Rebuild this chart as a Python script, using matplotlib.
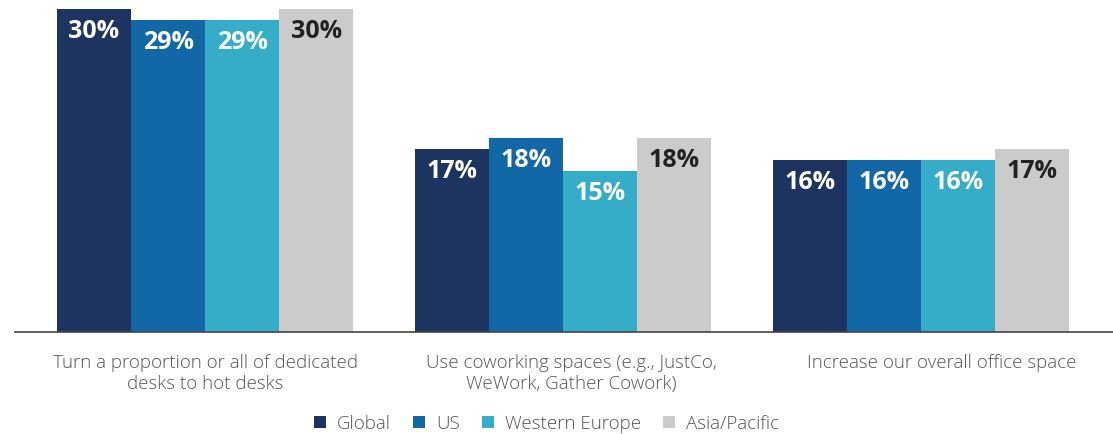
import matplotlib.pyplot as plt
import numpy as np

plt.rcParams['font.family'] = ['Open Sans', 'DejaVu Sans']

categories = ['Turn a proportion or all of dedicated\ndesks to hot desks',
              'Use coworking spaces (e.g., JustCo,\nWeWork, Gather Cowork)',
              'Increase our overall office space']
regions = ['Global', 'US', 'Western Europe', 'Asia/Pacific']
global_vals = [30, 17, 16]
us_vals = [29, 18, 16]
weu_vals = [29, 15, 16]
apac_vals = [30, 18, 17]

colors = ['#1d3461', '#1268a6', '#35adc8', '#cbcbcb']
label_colors = ['white', 'white', 'white', '#222222']
# category labels sit a little right of their bar group
label_shift = [0.0, 0.022, 0.059]

fig = plt.figure(figsize=(11.13, 4.34), dpi=100)
ax = fig.add_axes([0.0135, 0.235, 0.9865, 0.744])

x = np.arange(len(categories))
w = 0.207
series = [global_vals, us_vals, weu_vals, apac_vals]
for i, vals in enumerate(series):
    pos = x + (i - 1.5) * w
    bars = ax.bar(pos, vals, width=w, color=colors[i], label=regions[i])
    for b, v in zip(bars, vals):
        ax.text(b.get_x() + b.get_width() / 2, v - 2.1, f'{v}%',
                ha='center', va='center', fontsize=18, fontweight='bold',
                color=label_colors[i])

ax.set_xlim(-0.531, 2.536)
ax.set_ylim(0, 30)
for s in ['top', 'right', 'left']:
    ax.spines[s].set_visible(False)
ax.spines['bottom'].set_color('#444444')
ax.spines['bottom'].set_linewidth(1.2)
ax.set_yticks([])
ax.set_xticks(x + np.array(label_shift))
ax.set_xticklabels(categories, fontsize=13.5, color='#555555', fontweight='light',
                   linespacing=1.2)
ax.tick_params(axis='x', length=0, pad=16)

ax.legend(loc='center', bbox_to_anchor=(0.484, -0.284), ncol=4, frameon=False,
          handlelength=0.65, handleheight=0.65, handletextpad=0.55, columnspacing=1.2,
          prop={'size': 13.5, 'weight': 'light'}, labelcolor='#555555')

fig.savefig('out.png', dpi=100)
